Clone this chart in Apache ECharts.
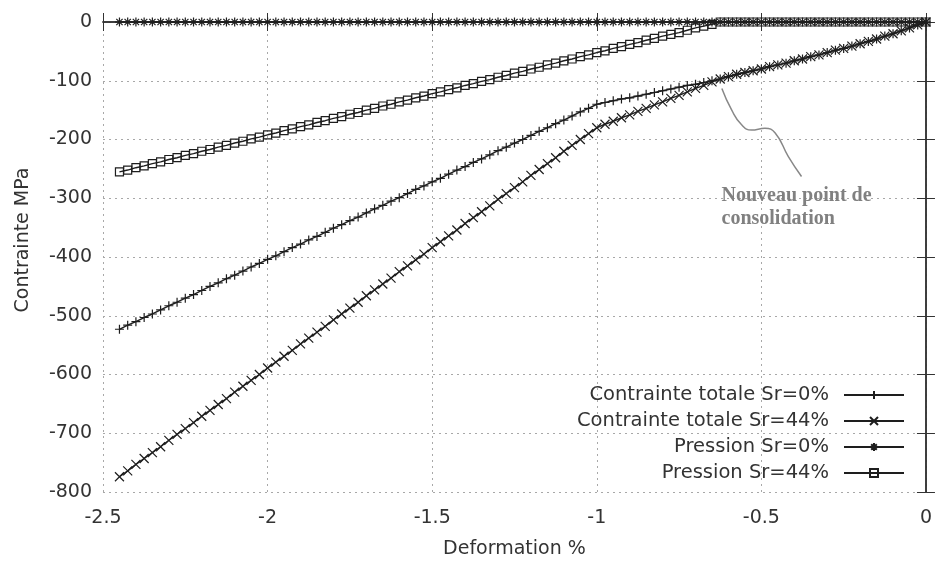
<!DOCTYPE html>
<html><head><meta charset="utf-8">
<script src="https://cdn.jsdelivr.net/npm/echarts@6/dist/echarts.min.js"></script>
<style>html,body{margin:0;padding:0;background:#fff}#c{width:935px;height:565px}</style>
</head><body><div id="c"></div>
<script>
// ---- data ----
const strain = [-2.45,-2.425,-2.4,-2.375,-2.35,-2.325,-2.3,-2.275,-2.25,-2.225,-2.2,-2.175,-2.15,-2.125,-2.1,-2.075,-2.05,-2.025,-2,-1.975,-1.95,-1.925,-1.9,-1.875,-1.85,-1.825,-1.8,-1.775,-1.75,-1.725,-1.7,-1.675,-1.65,-1.625,-1.6,-1.575,-1.55,-1.525,-1.5,-1.475,-1.45,-1.425,-1.4,-1.375,-1.35,-1.325,-1.3,-1.275,-1.25,-1.225,-1.2,-1.175,-1.15,-1.125,-1.1,-1.075,-1.05,-1.025,-1,-0.975,-0.95,-0.925,-0.9,-0.875,-0.85,-0.825,-0.8,-0.775,-0.75,-0.725,-0.7,-0.675,-0.65,-0.625,-0.6,-0.575,-0.55,-0.525,-0.5,-0.475,-0.45,-0.425,-0.4,-0.375,-0.35,-0.325,-0.3,-0.275,-0.25,-0.225,-0.2,-0.175,-0.15,-0.125,-0.1,-0.075,-0.05,-0.025,0];

const totalSr0 = [-523,-516,-510,-503,-497,-490,-483,-477,-470,-464,
 -457,-450,-444,-437,-431,-424,-417,-411,-404,-398,
 -391,-384,-378,-371,-365,-358,-351,-345,-338,-332,
 -325,-318,-312,-305,-299,-292,-285,-279,-272,-266,
 -259,-252,-246,-239,-233,-226,-219,-213,-206,-200,
 -193,-186,-180,-173,-167,-160,-153,-147,-140,
 -137,-134,-131,-129,-126,-123,-120,-117,-114,-111,-108,-106,-103,-100,-97,
 -93,-89,-86,-83,-80,-76,-73,-70,-66,-63,-59,-56,-52,-48,-45,-41,-37,-33,-29,-24,-20,-15,-10,-5,0];

const totalSr44 = [-774,-764,-753,-743,-733,-723,-712,-702,-692,-682,
 -671,-661,-651,-641,-630,-620,-610,-600,-589,-579,
 -569,-559,-548,-538,-528,-518,-507,-497,-487,-477,
 -466,-456,-446,-436,-425,-415,-405,-395,-384,-374,
 -364,-354,-343,-333,-323,-313,-302,-292,-282,-272,
 -261,-251,-241,-231,-220,-210,-200,-190,-180,
 -174,-169,-163,-158,-152,-147,-141,-136,-130,-125,-119,-113,-108,-102,-97,
 -93,-89,-86,-83,-80,-76,-73,-70,-66,-63,-59,-56,-52,-48,-45,-41,-37,-33,-29,-24,-20,-15,-10,-5,0];

const pressSr0 = [0,0,0,0,0,0,0,0,0,0,0,0,0,0,0,0,0,0,0,0,0,0,0,0,0,0,0,0,0,0,0,0,0,0,0,0,0,0,0,0,0,0,0,0,0,0,0,0,0,0,
 0,0,0,0,0,0,0,0,0,0,0,0,0,0,0,0,0,0,0,0,0,0,0,0,0,0,0,0,0,0,0,0,0,0,0,0,0,0,0,0,0,0,0,0,0,0,0,0,0];

const pressSr44 = [-255,-252,-248,-245,-241,-238,-234,-231,-227,-224,
 -220,-217,-213,-210,-206,-203,-199,-196,-192,-189,
 -185,-182,-178,-175,-171,-168,-164,-161,-157,-154,
 -150,-147,-143,-140,-136,-133,-129,-126,-122,-119,
 -115,-112,-108,-105,-101,-98,-94,-91,-87,-84,
 -80,-77,-73,-70,-66,-63,-59,-56,-52,-49,
 -45,-42,-38,-35,-31,-28,-24,-21,-18,-14,
 -10,-7,-4,0,
 0,0,0,0,0,0,0,0,0,0,0,0,0,0,0,0,0,0,0,0,0,0,0,0,0];

const seriesNames = ['Contrainte totale Sr=0%','Contrainte totale Sr=44%','Pression Sr=0%','Pression Sr=44%'];
const xTicks = [-2.5,-2,-1.5,-1,-0.5,0];
const yTicks = [-800,-700,-600,-500,-400,-300,-200,-100,0];
const xTitle = 'Deformation %';
const yTitle = 'Contrainte MPa';
const calloutPath = [[-0.620,-113],[-0.590,-150],[-0.560,-175],[-0.530,-184],[-0.489,-181],[-0.458,-189],[-0.418,-229],[-0.378,-263]];
const calloutText = 'Nouveau point de\nconsolidation';
const calloutAnchor = [-0.621,-276];

// ---- chart ----
const ink = '#1e1e1e';
const symbols = [
  'path://M0,5L10,5M5,0L5,10',
  'path://M0,0L10,10M10,0L0,10',
  'path://M0,5L10,5M5,0L5,10M1.5,1.5L8.5,8.5M8.5,1.5L1.5,8.5',
  'path://M0,0L10,0L10,10L0,10Z'
];
const sizes = [9,9,9,8];
const values = [totalSr0,totalSr44,pressSr0,pressSr44];

const chart = echarts.init(document.getElementById('c'), null, {renderer:'canvas'});
const font = 'DejaVu Sans';
const axisLine = {show:true, lineStyle:{color:'#333', width:1.5}};
const tick = {show:true, inside:true, length:9, lineStyle:{color:'#333', width:1}};
const split = {show:true, lineStyle:{type:[2,4], color:'#a8a8a8', width:1}};

const series = seriesNames.map((name,k)=>({
  name, type:'line', xAxisIndex:0, yAxisIndex:0,
  data: strain.map((x,i)=>[x, values[k][i]]),
  symbol: symbols[k], symbolSize: sizes[k], showSymbol:true, showAllSymbol:true,
  lineStyle:{color:ink, width:1.4},
  itemStyle:{color:'rgba(0,0,0,0)', borderColor:ink, borderWidth:1.2},
  emphasis:{disabled:true}, silent:true, clip:false, z:3
}));
series.push({
  name:'callout', type:'line', xAxisIndex:0, yAxisIndex:0,
  data: calloutPath, smooth:0.5, symbol:'none', silent:true,
  lineStyle:{color:'#888', width:1.5}, z:2
});

chart.setOption({
  animation:false,
  backgroundColor:'#fff',
  grid:{left:103, right:7, top:22, bottom:73, containLabel:false},
  legend:{
    data: seriesNames, orient:'vertical', right:25, top:380, align:'right',
    itemWidth:60, itemHeight:10, itemGap:6, selectedMode:false,
    textStyle:{fontSize:19.5, color:'#333', fontFamily:font, padding:[0,10,0,0]}
  },
  xAxis:[{
    type:'value', position:'bottom', min:xTicks[0], max:xTicks[xTicks.length-1], interval:xTicks[1]-xTicks[0],
    axisLine, axisTick:tick, splitLine:split,
    axisLabel:{fontSize:19, color:'#333', fontFamily:font, margin:17, showMinLabel:true, showMaxLabel:true},
    name:xTitle, nameLocation:'middle', nameGap:48, nameTextStyle:{fontSize:19, color:'#333', fontFamily:font}
  },{
    type:'value', position:'top', min:xTicks[0], max:xTicks[xTicks.length-1], interval:xTicks[1]-xTicks[0],
    axisLine, axisTick:tick, splitLine:{show:false}, axisLabel:{show:false}
  }],
  yAxis:[{
    type:'value', position:'left', min:yTicks[0], max:yTicks[yTicks.length-1], interval:yTicks[1]-yTicks[0],
    axisLine, axisTick:tick, splitLine:split,
    axisLabel:{fontSize:19, color:'#333', fontFamily:font, margin:11, showMinLabel:true, showMaxLabel:true},
    name:yTitle, nameLocation:'middle', nameGap:70,
    nameTextStyle:{fontSize:19, color:'#333', fontFamily:font, padding:[0,0,0,34]}
  },{
    type:'value', position:'right', min:yTicks[0], max:yTicks[yTicks.length-1], interval:yTicks[1]-yTicks[0],
    axisLine, axisTick:tick, splitLine:{show:false}, axisLabel:{show:false}
  }],
  series
});

const p = chart.convertToPixel({xAxisIndex:0, yAxisIndex:0}, calloutAnchor);
chart.setOption({graphic:[{
  type:'text', x:p[0], y:p[1], silent:true, z:10,
  style:{text:calloutText, fontSize:20, fontWeight:'bold', fontFamily:'"Liberation Serif", serif',
         fill:'#808080', lineHeight:23, verticalAlign:'top', align:'left'}
}]});
</script>
</body></html>
